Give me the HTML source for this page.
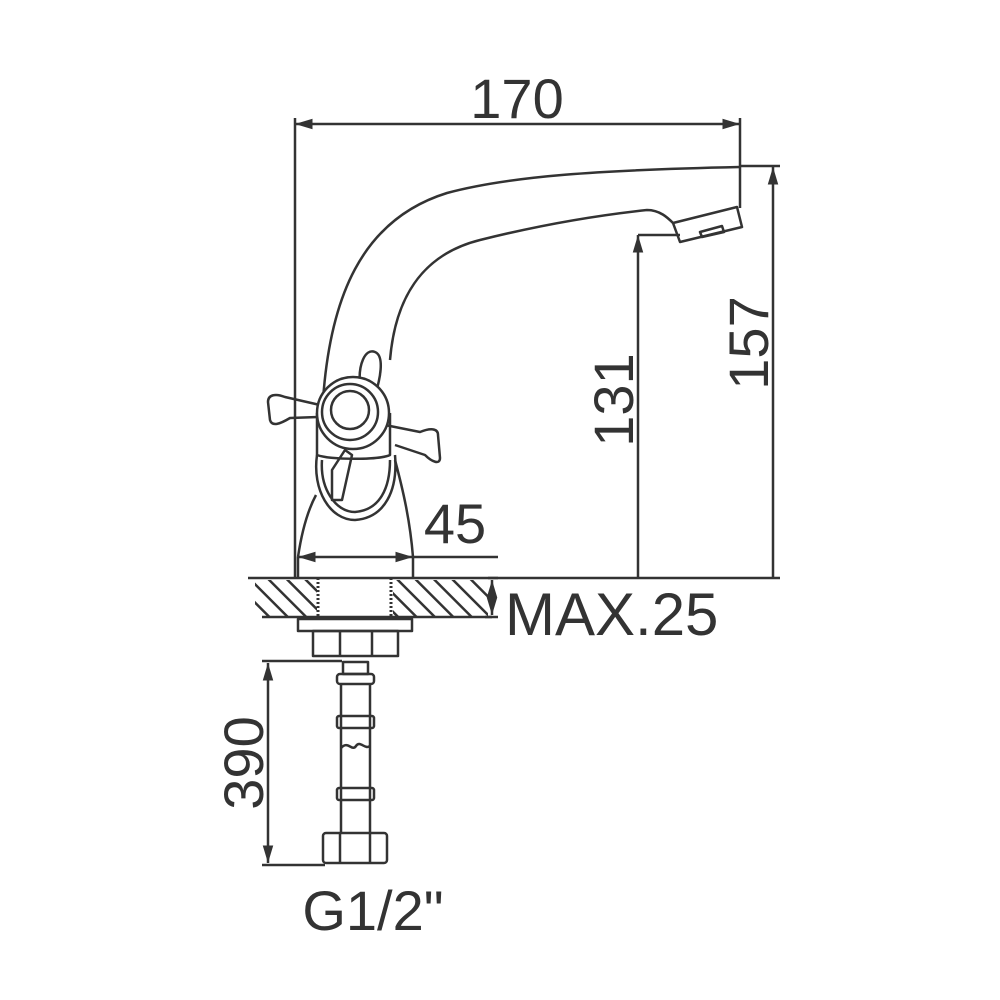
<!DOCTYPE html>
<html><head><style>html,body{margin:0;padding:0;background:#fff}svg{display:block}</style></head><body>
<svg width="1000" height="1000" viewBox="0 0 1000 1000" xmlns="http://www.w3.org/2000/svg">
<defs>
<marker id="a" viewBox="0 0 10 10" refX="10" refY="5" markerWidth="9" markerHeight="7" orient="auto-start-reverse"><path d="M0,2 L10,5 L0,8 Z" fill="#333"/></marker>
<pattern id="h" width="13" height="13" patternUnits="userSpaceOnUse" patternTransform="rotate(-45)"><line x1="0" y1="0" x2="0" y2="13" stroke="#333" stroke-width="5"/></pattern>
</defs>
<g fill="none" stroke="#333" stroke-width="2.5" stroke-linejoin="round">
<line x1="295" y1="124" x2="740" y2="124" marker-start="url(#a)" marker-end="url(#a)"/>
<line x1="295" y1="118" x2="295" y2="578"/>
<line x1="740" y1="118" x2="740" y2="208"/>
<line x1="740" y1="166" x2="780" y2="166"/>
<line x1="773" y1="167" x2="773" y2="578" marker-start="url(#a)"/>
<line x1="638" y1="235" x2="680" y2="235"/>
<line x1="638" y1="235" x2="638" y2="578" marker-start="url(#a)"/>
<line x1="248" y1="578" x2="780" y2="578"/>
<path d="M323,400 C330,300 360,220 447,193 C510,176 600,170 740,167"/>
<path d="M390,360 C395,300 420,255 480,240 C540,225 600,215 647,210 C660,210 668,218 673,223"/>
<path d="M673,223 L737,207 L742,227 L680,242 Z"/>
<path d="M700,232 L722,226 L724,232 L702,237 Z"/>
<path d="M298,557 C302,530 308,510 316,495"/>
<path d="M413,557 C410,520 403,490 395,460"/>
<line x1="298" y1="557" x2="298" y2="578"/>
<line x1="413" y1="557" x2="413" y2="578"/>
<path d="M317,455 C312,490 330,520 355,520 C385,518 398,490 395,455"/>
<path d="M322,460 C320,488 335,512 355,512 C380,510 390,488 390,460"/>
<path d="M360,385 C358,365 365,348 375,352 C385,356 380,380 375,395"/>
<path d="M332,470 L345,450 L352,455 L342,500 L332,500 Z"/>
<path d="M320,405 L285,397 C275,393 268,395 268,402 L270,420 C272,427 280,424 290,418 L318,417"/>
<path d="M385,425 L420,432 C430,428 438,428 438,435 L440,458 C440,465 432,462 425,455 L395,445"/>
<path d="M317,413 L317,455 C330,460 380,460 390,455 L390,413"/>
<circle cx="353" cy="413" r="36" fill="#fff"/>
<circle cx="350" cy="412" r="28"/>
<circle cx="350" cy="410" r="19"/>
<line x1="298" y1="557" x2="413" y2="557" marker-start="url(#a)" marker-end="url(#a)"/>
<line x1="413" y1="557" x2="498" y2="557"/>
<line x1="262" y1="617" x2="492" y2="617"/>
<rect x="255" y="580" width="62" height="36" fill="url(#h)" stroke="none"/>
<rect x="393" y="580" width="95" height="36" fill="url(#h)" stroke="none"/>
<line x1="318" y1="578" x2="318" y2="617" stroke-dasharray="2 2" stroke-width="3"/>
<line x1="391" y1="578" x2="391" y2="617" stroke-dasharray="2 2" stroke-width="3"/>
<line x1="488" y1="578" x2="498" y2="578"/>
<line x1="492" y1="580" x2="492" y2="615" marker-start="url(#a)" marker-end="url(#a)"/>
<line x1="485" y1="617" x2="498" y2="617"/>
<rect x="298" y="619" width="114" height="12"/>
<rect x="313" y="631" width="85" height="25"/>
<line x1="340" y1="631" x2="340" y2="656"/>
<line x1="372" y1="631" x2="372" y2="656"/>
<rect x="343" y="662" width="25" height="12"/>
<rect x="337" y="674" width="37" height="10" rx="3"/>
<line x1="341" y1="684" x2="341" y2="832"/>
<line x1="370" y1="684" x2="370" y2="832"/>
<rect x="337" y="716" width="37" height="12" rx="2"/>
<path d="M341,748 C348,740 352,752 356,746 C360,740 365,750 370,746"/>
<rect x="337" y="788" width="37" height="12" rx="2"/>
<rect x="323" y="833" width="64" height="30" rx="3"/>
<line x1="340" y1="833" x2="340" y2="863"/>
<line x1="370" y1="833" x2="370" y2="863"/>
<line x1="262" y1="661" x2="342" y2="661"/>
<line x1="262" y1="865" x2="325" y2="865"/>
<line x1="268" y1="663" x2="268" y2="863" marker-start="url(#a)" marker-end="url(#a)"/>
</g>
<g font-family="Liberation Sans, sans-serif" fill="#333" font-size="56">
<text x="517" y="118" text-anchor="middle">170</text>
<text x="455" y="543" text-anchor="middle">45</text>
<text x="505" y="635" font-size="60">MAX.25</text>
<text x="373" y="930" text-anchor="middle">G1/2"</text>
<text transform="translate(633,400) rotate(-90)" text-anchor="middle">131</text>
<text transform="translate(768,343) rotate(-90)" text-anchor="middle">157</text>
<text transform="translate(263,763) rotate(-90)" text-anchor="middle">390</text>
</g>
</svg>
</body></html>
